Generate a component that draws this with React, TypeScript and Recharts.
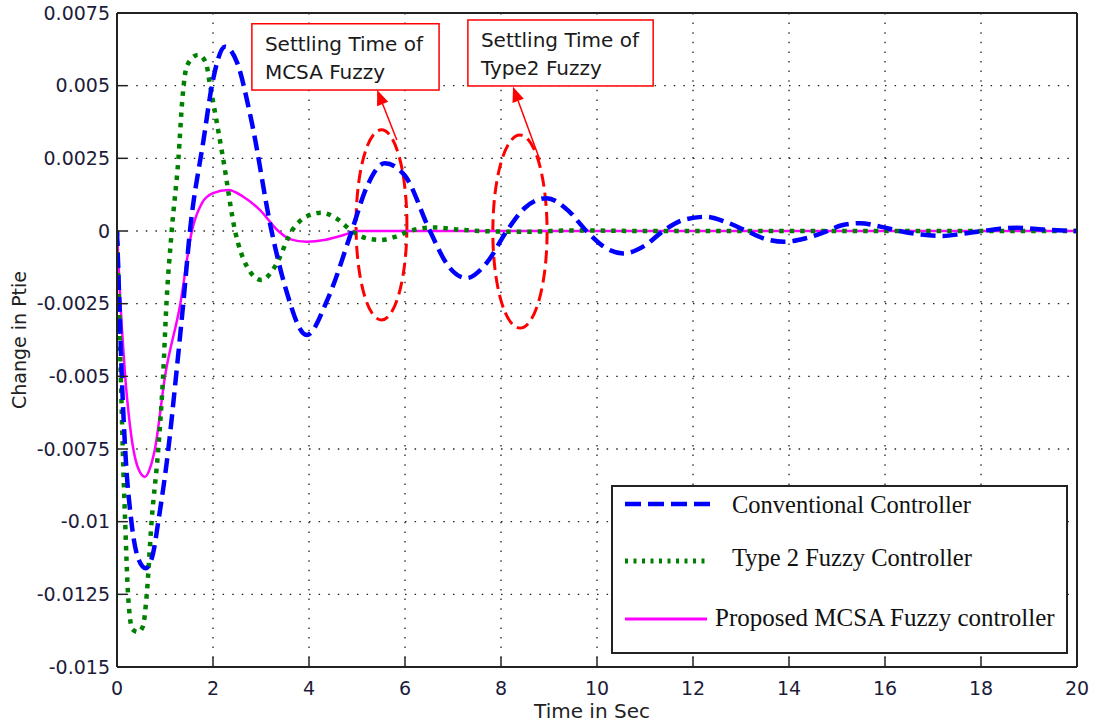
import React from "react";
import {
  CartesianGrid,
  Legend,
  Line,
  LineChart,
  ReferenceArea,
  ReferenceLine,
  XAxis,
  YAxis,
} from "recharts";

// time ticks (s) and Ptie ticks
const X_TICKS = [0, 2, 4, 6, 8, 10, 12, 14, 16, 18, 20];
const Y_TICKS = [-0.015, -0.0125, -0.01, -0.0075, -0.005, -0.0025, 0, 0.0025, 0.005, 0.0075];
const Y_LABELS = ["-0.015", "-0.0125", "-0.01", "-0.0075", "-0.005", "-0.0025", "0", "0.0025", "0.005", "0.0075"];

// [t, dPtie]
const conventional: [number, number][] = [
  [0, 0], [0.05, -0.0025], [0.1, -0.005], [0.17, -0.0075], [0.3, -0.01], [0.45, -0.0113],
  [0.6, -0.0116], [0.75, -0.0111], [0.86, -0.01], [1.07, -0.0075], [1.23, -0.005], [1.38, -0.0025],
  [1.52, 0], [1.8, 0.0031], [2.0, 0.0052], [2.25, 0.00634], [2.5, 0.0058], [2.8, 0.0038],
  [3.22, 0], [3.5, -0.0019], [3.95, -0.00358], [4.4, -0.0023], [4.89, 0], [5.2, 0.0015],
  [5.58, 0.00233], [6.0, 0.0019], [6.52, 0], [6.9, -0.0012], [7.28, -0.00162], [7.7, -0.0011],
  [8.12, 0], [8.5, 0.0008], [8.95, 0.00113], [9.4, 0.0007], [9.78, 0], [10.15, -0.00055],
  [10.55, -0.00077], [11.0, -0.0005], [11.38, 0], [11.8, 0.00038], [12.28, 0.00049], [12.7, 0.0003],
  [13.12, 0], [13.5, -0.00027], [13.9, -0.00037], [14.35, -0.00025], [14.8, 0], [15.1, 0.0002],
  [15.48, 0.00027], [15.9, 0.00015], [16.3, 0], [16.75, -0.00012], [17.2, -0.00017], [17.6, -0.0001],
  [18.05, 0], [18.4, 0.00008], [18.75, 0.00011], [19.3, 0.00005], [20, 0],
];

const type2: [number, number][] = [
  [0, 0], [0.04, -0.0025], [0.08, -0.005], [0.12, -0.0075], [0.17, -0.01], [0.23, -0.0125],
  [0.32, -0.0137], [0.44, -0.0138], [0.54, -0.0136], [0.62, -0.0125], [0.72, -0.01], [0.86, -0.0075],
  [0.96, -0.005], [1.03, -0.0025], [1.14, 0], [1.28, 0.0025], [1.36, 0.0045], [1.46, 0.0057],
  [1.69, 0.00606], [1.85, 0.0058], [1.94, 0.005], [2.21, 0.0025], [2.46, 0], [2.7, -0.0012],
  [3.01, -0.00169], [3.3, -0.0012], [3.64, 0], [3.95, 0.0005], [4.26, 0.00063], [4.6, 0.0004],
  [4.89, 0], [5.2, -0.00025], [5.48, -0.00031], [5.8, -0.0002], [6.1, 0], [6.6, 0.00012],
  [7.1, 0.00005], [7.6, 0], [8.5, -0.00003], [9.5, 0.00002], [11, 0], [20, 0],
];

const proposed: [number, number][] = [
  [0, 0], [0.05, -0.0018], [0.1, -0.0033], [0.17, -0.005], [0.25, -0.0064], [0.34, -0.0075],
  [0.45, -0.0082], [0.58, -0.00846], [0.7, -0.0081], [0.79, -0.0075], [1.0, -0.005], [1.32, -0.0025],
  [1.56, 0], [1.77, 0.00096], [2.0, 0.0013], [2.32, 0.00141], [2.63, 0.00118], [2.98, 0.00072],
  [3.36, 0], [3.6, -0.00028], [3.95, -0.00037], [4.35, -0.0003], [4.72, -0.00014], [5.0, 0],
  [20, 0],
];

const SERIES_NAMES = ["Conventional Controller", "Type 2 Fuzzy Controller", "Proposed MCSA Fuzzy controller"];

// annotation anchors in data units: [t1, t2, v1, v2]
const settleRings: [number, number, number, number][] = [
  [4.98, 6.04, -0.00306, 0.00348],
  [7.83, 8.96, -0.00334, 0.0033],
];
const noteBoxes: [number, number, number, number][] = [
  [2.81, 6.71, 0.00485, 0.00713],
  [7.31, 11.17, 0.00499, 0.00726],
];
const NOTE_TEXT = [
  ["Settling Time of", "MCSA Fuzzy"],
  ["Settling Time of", "Type2 Fuzzy"],
];
// arrows: from [t, v] to [t, v]
const noteArrows: [number, number, number, number][] = [
  [5.83, 0.00313, 5.42, 0.00485],
  [8.81, 0.00244, 8.25, 0.00496],
];

const toRows = (pts: [number, number][]) => pts.map(([t, v]) => ({ t, v }));

const AXIS = "#222";
const TICK_TEXT = { fill: "#1c1c3a", fontSize: 19, fontFamily: "DejaVu Sans" };
const RED = "#ff0000";

function Ring(props: any) {
  const { x, y, width, height } = props;
  return (
    <ellipse
      cx={x + width / 2}
      cy={y + height / 2}
      rx={width / 2}
      ry={height / 2}
      fill="none"
      stroke={RED}
      strokeWidth={3}
      strokeDasharray="13 6"
    />
  );
}

function makeNote(lines: string[]) {
  return (props: any) => {
    const { x, y, width, height } = props;
    return (
      <g>
        <rect x={x} y={y} width={width} height={height} fill="#fff" stroke={RED} strokeWidth={1.5} />
        <text x={x + 13} y={y + 27} fontSize={20} fontFamily="DejaVu Sans" fill="#1a1a1a">
          {lines[0]}
        </text>
        <text x={x + 13} y={y + 55} fontSize={20} fontFamily="DejaVu Sans" fill="#1a1a1a">
          {lines[1]}
        </text>
      </g>
    );
  };
}

function Arrow(props: any) {
  const { x1, y1, x2, y2 } = props;
  const dx = x2 - x1;
  const dy = y2 - y1;
  const len = Math.hypot(dx, dy) || 1;
  const ux = dx / len;
  const uy = dy / len;
  const head = 15;
  const half = 6;
  const bx = x2 - ux * head;
  const by = y2 - uy * head;
  return (
    <g>
      <line x1={x1} y1={y1} x2={bx} y2={by} stroke={RED} strokeWidth={1.5} />
      <polygon
        points={`${x2},${y2} ${bx - uy * half},${by + ux * half} ${bx + uy * half},${by - ux * half}`}
        fill={RED}
      />
    </g>
  );
}

function LegendBox() {
  const font = { fontFamily: "Liberation Serif", fontSize: 24.5, fill: "#111" };
  return (
    <svg width={457} height={169}>
      <rect x={1} y={1} width={455} height={167} fill="#fff" stroke="#222" strokeWidth={2} />
      <line x1={14} y1={19} x2={99} y2={19} stroke="#0000ff" strokeWidth={4.5} strokeDasharray="16 7" />
      <text x={121} y={28} {...font}>{SERIES_NAMES[0]}</text>
      <line x1={14} y1={76} x2={99} y2={76} stroke="#008000" strokeWidth={5} strokeDasharray="3 5.5" />
      <text x={121} y={81} {...font}>{SERIES_NAMES[1]}</text>
      <line x1={14} y1={134} x2={96} y2={134} stroke="#ff00ff" strokeWidth={3} />
      <text x={104} y={141} {...font} fontSize={25}>{SERIES_NAMES[2]}</text>
    </svg>
  );
}

function XLabel(props: any) {
  const { viewBox } = props;
  return (
    <text x={viewBox.x + viewBox.width / 2 - 5} y={718} textAnchor="middle" fontSize={20} fontFamily="DejaVu Sans" fill="#222">
      Time in Sec
    </text>
  );
}

function YLabel(props: any) {
  const { viewBox } = props;
  const cy = viewBox.y + viewBox.height / 2;
  return (
    <text
      x={19}
      y={cy}
      transform={`rotate(-90, 19, ${cy})`}
      textAnchor="middle"
      dominantBaseline="central"
      fontSize={19}
      fontFamily="DejaVu Sans"
      fill="#222"
    >
      Change in Ptie
    </text>
  );
}

export default function App() {
  return (
    <div style={{ position: "absolute", left: 0, top: 0, width: 1096, height: 727, background: "#fff", fontFamily: "DejaVu Sans" }}>
      <LineChart width={1096} height={727} margin={{ top: 0, right: 0, bottom: 0, left: 0 }}>
        <CartesianGrid stroke="#222" strokeWidth={1.3} strokeDasharray="1.5 8.1" />
        <XAxis
          dataKey="t"
          type="number"
          domain={[0, 20]}
          ticks={X_TICKS}
          interval={0}
          height={60}
          allowDataOverflow
          tickSize={-10}
          tickMargin={24.5}
          axisLine={{ stroke: AXIS, strokeWidth: 2 }}
          tickLine={{ stroke: AXIS, strokeWidth: 1.5 }}
          tick={TICK_TEXT}
          label={<XLabel />}
        />
        <XAxis
          xAxisId="top"
          orientation="top"
          type="number"
          domain={[0, 20]}
          ticks={X_TICKS}
          interval={0}
          height={13}
          tickSize={-10}
          axisLine={{ stroke: AXIS, strokeWidth: 2 }}
          tickLine={{ stroke: AXIS, strokeWidth: 1.5 }}
          tick={false}
        />
        <YAxis
          type="number"
          domain={[-0.015, 0.0075]}
          ticks={Y_TICKS}
          interval={0}
          width={117}
          allowDataOverflow
          tickSize={-10}
          tickMargin={17}
          axisLine={{ stroke: AXIS, strokeWidth: 2 }}
          tickLine={{ stroke: AXIS, strokeWidth: 1.5 }}
          tick={TICK_TEXT}
          tickFormatter={(v: number) => Y_LABELS[Y_TICKS.indexOf(v)] ?? String(v)}
          label={<YLabel />}
        />
        <YAxis
          yAxisId="right"
          orientation="right"
          type="number"
          domain={[-0.015, 0.0075]}
          ticks={Y_TICKS}
          interval={0}
          width={19}
          tickSize={-10}
          axisLine={{ stroke: AXIS, strokeWidth: 2 }}
          tickLine={{ stroke: AXIS, strokeWidth: 1.5 }}
          tick={false}
        />
        <Line
          data={toRows(proposed)}
          dataKey="v"
          name={SERIES_NAMES[2]}
          type="monotone"
          stroke="#ff00ff"
          strokeWidth={2.5}
          dot={false}
          activeDot={false}
          isAnimationActive={false}
        />
        <Line
          data={toRows(type2)}
          dataKey="v"
          name={SERIES_NAMES[1]}
          type="monotone"
          stroke="#008000"
          strokeWidth={4.5}
          strokeDasharray="4.5 6"
          dot={false}
          activeDot={false}
          isAnimationActive={false}
        />
        <Line
          data={toRows(conventional)}
          dataKey="v"
          name={SERIES_NAMES[0]}
          type="monotone"
          stroke="#0000ff"
          strokeWidth={4.5}
          strokeDasharray="15 7"
          dot={false}
          activeDot={false}
          isAnimationActive={false}
        />
        {settleRings.map(([t1, t2, v1, v2], i) => (
          <ReferenceArea key={`ring${i}`} x1={t1} x2={t2} y1={v1} y2={v2} shape={<Ring />} />
        ))}
        {noteBoxes.map(([t1, t2, v1, v2], i) => (
          <ReferenceArea key={`box${i}`} x1={t1} x2={t2} y1={v1} y2={v2} shape={makeNote(NOTE_TEXT[i])} />
        ))}
        {noteArrows.map(([ta, va, tb, vb], i) => (
          <ReferenceLine
            key={`arr${i}`}
            segment={[{ x: ta, y: va }, { x: tb, y: vb }]}
            shape={(p: any) => <Arrow {...p} />}
          />
        ))}
        <Legend
          layout="vertical"
          align="center"
          verticalAlign="middle"
          content={() => <LegendBox />}
          wrapperStyle={{ left: 611, top: 485, width: 457, height: 169 }}
        />
      </LineChart>
    </div>
  );
}
